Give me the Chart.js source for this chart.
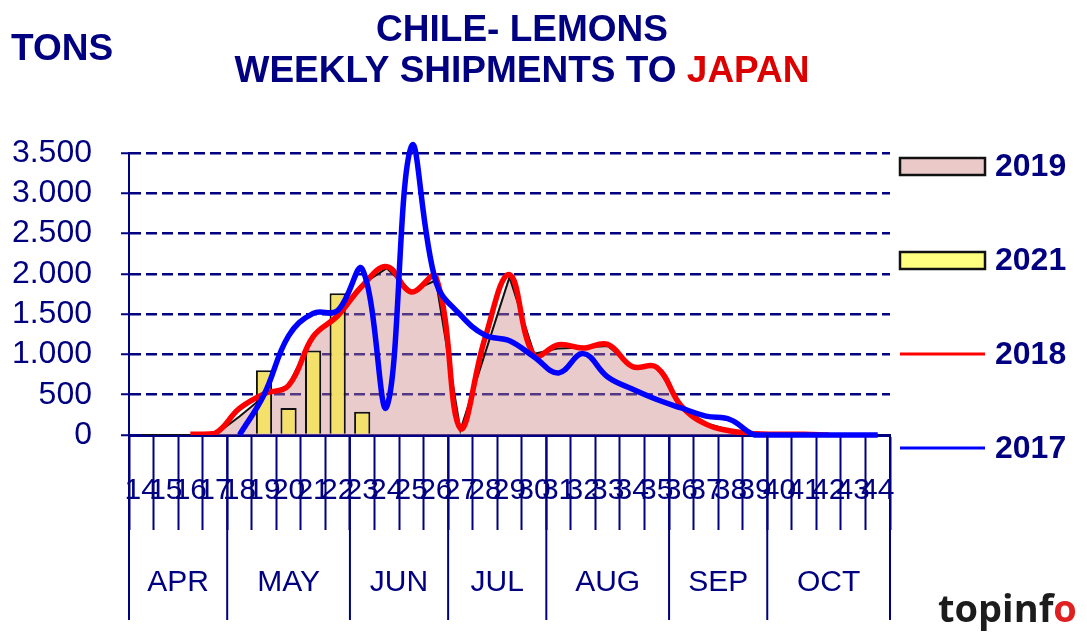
<!DOCTYPE html>
<html lang="en">
<head>
<meta charset="UTF-8">
<title>Chile lemons - weekly shipments to Japan</title>
<script src="https://cdn.jsdelivr.net/npm/chart.js"></script>
<style>
  body { margin: 0; background: #ffffff; }
  .chart-box { position: relative; width: 1087px; height: 632px; }
</style>
</head>
<body>
<div class="chart-box"><canvas id="lemonChart"></canvas></div>
<script>
// weeks 14..44
const weeks = ['14','15','16','17','18','19','20','21','22','23','24','25','26','27','28','29','30',
               '31','32','33','34','35','36','37','38','39','40','41','42','43','44'];
const tons2019 = [0,0,0,0,230,480,620,1230,1500,1870,2070,1780,1920,60,1010,1960,1010,
                  1075,1085,1105,855,855,355,146,60,0,0,0,0,0,0];
const tons2021 = [null,null,null,null,null,805,335,1050,1760,290,null,null,null,null,null,null,null,
                  null,null,null,null,null,null,null,null,null,null,null,null,null,null];
const tons2018 = [null,null,10,20,330,510,615,1220,1480,1850,2090,1775,1965,80,1200,1990,990,
                  1120,1080,1125,850,840,360,135,50,15,10,10,0,null,null];
const tons2017 = [null,null,null,null,0,500,1230,1510,1545,2060,350,3580,1900,1490,1240,1170,970,
                  770,1010,720,570,440,335,235,190,0,0,0,0,0,0];
const yTickLabels = ['0','500','1.000','1.500','2.000','2.500','3.000','3.500'];
const months = ['APR','MAY','JUN','JUL','AUG','SEP','OCT'];
const monthWeekCounts = [4,5,4,4,5,4,5];
const legendOrder = ['2019','2021','2018','2017'];

const navy = '#000080';
const FONT = '"Liberation Sans", Arial, sans-serif';

// month row under the week numbers
const monthAxis = {
  id: 'monthAxis',
  afterDraw(chart) {
    const {ctx, scales: {x}} = chart;
    const half = (x.getPixelForValue(1) - x.getPixelForValue(0)) / 2;
    ctx.save();
    ctx.strokeStyle = navy;
    ctx.lineWidth = 2;
    ctx.fillStyle = navy;
    ctx.font = '30px ' + FONT;
    ctx.textAlign = 'center';
    ctx.textBaseline = 'middle';
    let start = 0;
    months.forEach((m, i) => {
      const end = start + monthWeekCounts[i];
      const left = x.getPixelForValue(start) - half;
      const right = x.getPixelForValue(end - 1) + half;
      ctx.beginPath();
      ctx.moveTo(left, x.top);
      ctx.lineTo(left, x.top + 185);
      if (i === months.length - 1) {
        ctx.moveTo(right, x.top);
        ctx.lineTo(right, x.top + 185);
      }
      ctx.stroke();
      ctx.fillText(m, (left + right) / 2, x.top + 148);
      start = end;
    });
    ctx.restore();
  }
};

// titles, unit, legend and logo
const decorations = {
  id: 'decorations',
  afterDraw(chart) {
    const {ctx, chartArea} = chart;
    ctx.save();
    ctx.textBaseline = 'middle';

    // title
    const cx = 522;
    ctx.font = 'bold 37px ' + FONT;
    ctx.textAlign = 'center';
    ctx.fillStyle = navy;
    ctx.fillText('CHILE- LEMONS', cx, 31);
    const partA = 'WEEKLY SHIPMENTS TO ';
    const partB = 'JAPAN';
    const wA = ctx.measureText(partA).width;
    const wB = ctx.measureText(partB).width;
    ctx.textAlign = 'left';
    const x0 = cx - (wA + wB) / 2;
    ctx.fillText(partA, x0, 72);
    ctx.fillStyle = '#dd0000';
    ctx.fillText(partB, x0 + wA, 72);

    // unit
    ctx.fillStyle = navy;
    ctx.font = 'bold 37px ' + FONT;
    ctx.fillText('TONS', 11, 50);

    // legend
    const lx = chartArea.right + 10;
    legendOrder.forEach((lab, i) => {
      const ds = chart.data.datasets.find(d => d.label === lab);
      const y = chartArea.top + 13 + i * 94;
      if (ds.type === 'line' && !ds.fill) {
        ctx.strokeStyle = ds.borderColor;
        ctx.lineWidth = 3;
        ctx.beginPath();
        ctx.moveTo(lx, y);
        ctx.lineTo(lx + 85, y);
        ctx.stroke();
      } else {
        ctx.fillStyle = ds.legendFill || ds.backgroundColor;
        ctx.fillRect(lx, y - 8, 85, 17);
        ctx.strokeStyle = '#111111';
        ctx.lineWidth = 2.5;
        ctx.strokeRect(lx, y - 8, 85, 17);
      }
      ctx.fillStyle = navy;
      ctx.font = 'bold 32px ' + FONT;
      ctx.fillText(lab, lx + 95, y + 1);
    });

    // logo
    ctx.textBaseline = 'alphabetic';
    ctx.font = 'bold 38px "Open Sans", sans-serif';
    ctx.fillStyle = '#1c1c1c';
    ctx.fillText('topinf', 938, 622);
    const wl = ctx.measureText('topinf').width;
    ctx.fillStyle = '#e02020';
    ctx.fillText('o', 938 + wl, 622);
    ctx.restore();
  }
};

new Chart(document.getElementById('lemonChart'), {
  type: 'bar',
  data: {
    labels: weeks,
    datasets: [
      {
        type: 'line', label: '2017', data: tons2017,
        borderColor: '#0000ff', borderWidth: 5.5, tension: 0.4,
        pointRadius: 0, fill: false, order: 1, clip: 12
      },
      {
        type: 'line', label: '2018', data: tons2018,
        borderColor: '#ff0000', borderWidth: 5.5, tension: 0.4,
        pointRadius: 0, fill: false, order: 2
      },
      {
        type: 'bar', label: '2021', data: tons2021,
        backgroundColor: '#f3e16b', legendFill: '#ffff80',
        borderColor: '#111111', borderWidth: 2,
        barPercentage: 0.66, categoryPercentage: 1, order: 3
      },
      {
        type: 'line', label: '2019', data: tons2019,
        borderColor: '#111111', borderWidth: 2,
        backgroundColor: 'rgba(205,130,130,0.42)', legendFill: '#ebc9c9',
        fill: 'origin', tension: 0, pointRadius: 0, order: 4
      }
    ]
  },
  options: {
    responsive: true,
    maintainAspectRatio: false,
    animation: false,
    layout: { padding: { top: 153, right: 197, bottom: 0, left: 0 } },
    plugins: {
      legend: { display: false },
      title: { display: false },
      tooltip: { enabled: false }
    },
    scales: {
      x: {
        offset: true,
        grid: {
          offset: true, drawOnChartArea: false, drawTicks: true,
          tickLength: 95, tickColor: navy, tickWidth: 2
        },
        border: { color: navy, width: 3 },
        ticks: {
          color: navy, font: { family: FONT, size: 30 },
          autoSkip: false, maxRotation: 0, minRotation: 0, padding: -57
        },
        afterFit: s => { s.height = 197; }
      },
      y: {
        min: 0,
        max: 3500,
        ticks: {
          stepSize: 500, autoSkip: false, color: navy, font: { family: FONT, size: 32 }, padding: 29,
          callback: (v, i) => yTickLabels[i]
        },
        grid: { color: navy, lineWidth: 2.5, tickLength: 8, tickColor: navy, tickWidth: 2 },
        border: { color: navy, width: 2, dash: [11, 5] },
        afterFit: s => { s.width = 129; }
      }
    }
  },
  plugins: [monthAxis, decorations]
});
</script>
</body>
</html>
